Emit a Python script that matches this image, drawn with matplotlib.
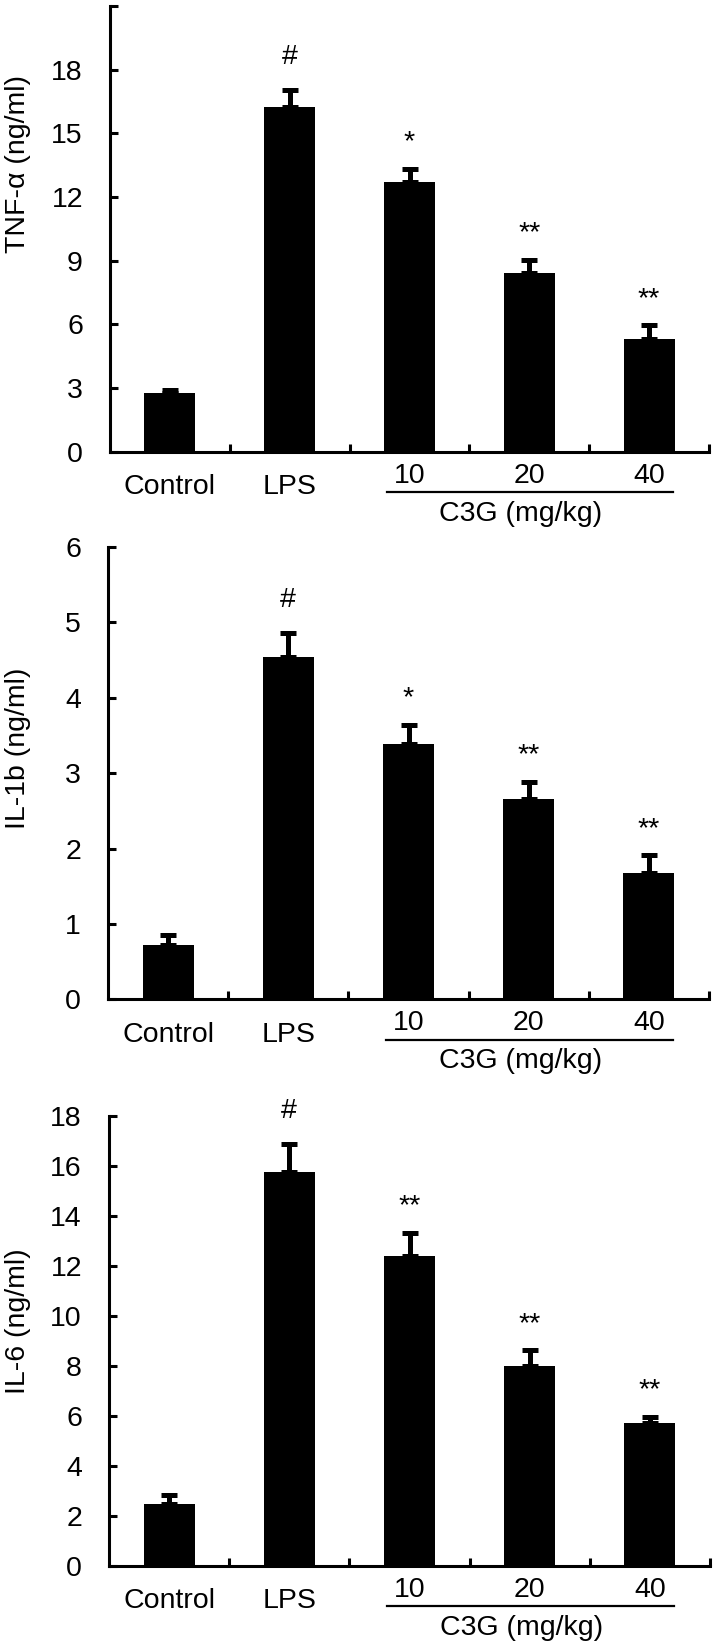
import matplotlib
matplotlib.use("Agg")
import matplotlib.pyplot as plt
import matplotlib.transforms as mtransforms

plt.rcParams['font.family'] = ['Liberation Sans', 'DejaVu Sans']

# ---- data ----
groups = ["Control", "LPS", "10", "20", "40"]
dose_title = "C3G (mg/kg)"

tnf_mean = [2.78, 16.23, 12.73, 8.43, 5.32]
tnf_err = [0.12, 0.83, 0.61, 0.60, 0.63]
tnf_sig = ["", "#", "*", "**", "**"]

il1b_mean = [0.72, 4.54, 3.39, 2.66, 1.68]
il1b_err = [0.13, 0.32, 0.25, 0.23, 0.23]
il1b_sig = ["", "#", "*", "**", "**"]

il6_mean = [2.47, 15.76, 12.39, 8.0, 5.70]
il6_err = [0.35, 1.11, 0.94, 0.62, 0.25]
il6_sig = ["", "#", "**", "**", "**"]

panels = [
    dict(mean=tnf_mean, err=tnf_err, sig=tnf_sig, ylabel="TNF-α (ng/ml)",
         ymax=21, ticks=[0, 3, 6, 9, 12, 15, 18, 21],
         labels=["0", "3", "6", "9", "12", "15", "18", ""],
         rect=(110, 6, 709, 451.7), label_y=164),
    dict(mean=il1b_mean, err=il1b_err, sig=il1b_sig, ylabel="IL-1b (ng/ml)",
         ymax=6, ticks=[0, 1, 2, 3, 4, 5, 6],
         labels=["0", "1", "2", "3", "4", "5", "6"],
         rect=(108, 547, 709, 999.5), label_y=748),
    dict(mean=il6_mean, err=il6_err, sig=il6_sig, ylabel="IL-6 (ng/ml)",
         ymax=18, ticks=[0, 2, 4, 6, 8, 10, 12, 14, 16, 18],
         labels=["0", "2", "4", "6", "8", "10", "12", "14", "16", "18"],
         rect=(109, 1116, 710, 1565.7), label_y=1321),
]

W, H, DPI = 718, 1645, 100
fig = plt.figure(figsize=(W / DPI, H / DPI), dpi=DPI)
FS = 20.5
LW = 2.2
PT = 72.0 / DPI  # points per pixel

for p in panels:
    x0, top, x1, bot = p["rect"]
    ax = fig.add_axes([x0 / W, 1 - bot / H, (x1 - x0) / W, (bot - top) / H])
    xs = list(range(len(groups)))
    ax.bar(xs, p["mean"], width=0.425, color="black", zorder=2)
    ax.errorbar(xs, p["mean"], yerr=[[0] * len(xs), p["err"]], fmt="none",
                ecolor="black", elinewidth=5 * PT, capsize=8 * PT, capthick=5 * PT, zorder=1)
    ax.set_xlim(-0.5, len(groups) - 0.5)
    ax.set_ylim(0, p["ymax"])
    ax.set_yticks(p["ticks"])
    ax.set_yticklabels(p["labels"])
    ax.set_xticks([i + 0.5 for i in xs])
    ax.set_xticklabels([])
    ax.tick_params(axis="both", direction="in", length=6, width=LW, labelsize=FS)
    ax.tick_params(axis="y", pad=19.5)
    for s in ["top", "right"]:
        ax.spines[s].set_visible(False)
    for s in ["left", "bottom"]:
        ax.spines[s].set_linewidth(LW)

    # significance marks: ink centre ~36 px above the cap top
    for i, s in enumerate(p["sig"]):
        if not s:
            continue
        ytop = p["mean"][i] + p["err"][i]
        ink = 0.36 if s == "#" else 0.58  # ink centre above baseline (em)
        dy_pt = 36 * PT - ink * FS
        ax.annotate(s, xy=(i, ytop), xytext=(0, dy_pt), textcoords="offset points",
                    ha="center", va="baseline", fontsize=FS, annotation_clip=False)

    # group labels below the axis
    def below(px):
        return mtransforms.blended_transform_factory(ax.transData, ax.transAxes) + \
            mtransforms.ScaledTranslation(0, -px / DPI, fig.dpi_scale_trans)

    for i, g in enumerate(groups):
        dy = 35 if i < 2 else 24
        ax.text(i, 0, g, transform=below(dy), ha="center", va="center", fontsize=FS)
    ax.plot([1.815, 4.197], [0, 0], color="black", lw=1.6, transform=below(40), clip_on=False)
    ax.text(2.93, 0, dose_title, transform=below(62), ha="center", va="center", fontsize=FS)

    fig.text(18 / W, 1 - p["label_y"] / H, p["ylabel"], rotation=90,
             ha="center", va="center", fontsize=FS)

fig.savefig("out.png", dpi=DPI)
